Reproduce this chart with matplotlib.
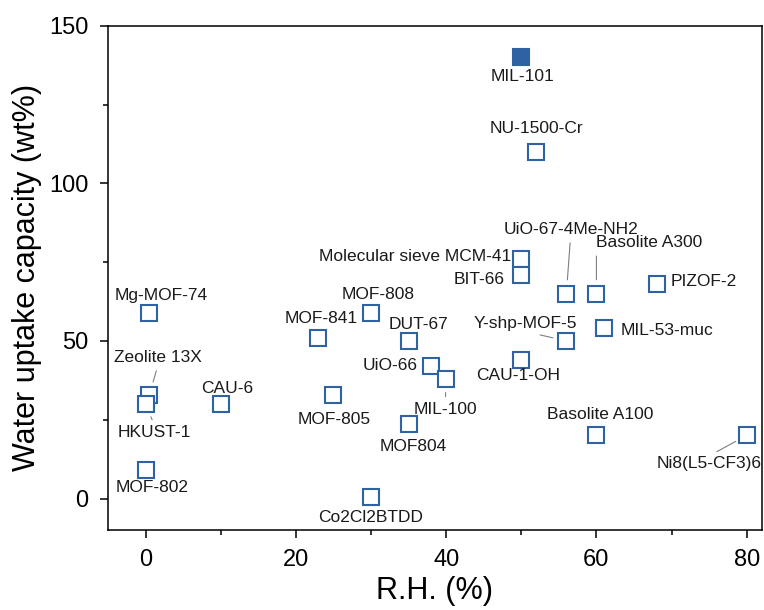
import matplotlib.pyplot as plt
from matplotlib.ticker import MultipleLocator

plt.rcParams['font.family'] = ['Liberation Sans', 'DejaVu Sans']

# materials: relative humidity (%) and water uptake capacity (wt%)
names = ['MIL-101', 'NU-1500-Cr', 'Molecular sieve MCM-41', 'BIT-66', 'UiO-67-4Me-NH2',
         'Basolite A300', 'PIZOF-2', 'MIL-53-muc', 'Y-shp-MOF-5', 'CAU-1-OH',
         'Basolite A100', 'Ni8(L5-CF3)6', 'Mg-MOF-74', 'Zeolite 13X', 'HKUST-1',
         'MOF-802', 'CAU-6', 'MOF-841', 'MOF-808', 'DUT-67', 'UiO-66', 'MIL-100',
         'MOF-805', 'MOF804', 'Co2Cl2BTDD']
rh = [50, 52, 50, 50, 56, 60, 68, 61, 56, 50, 60, 80, 0.5, 0.5, 0, 0, 10, 23, 30, 35,
      38, 40, 25, 35, 30]
uptake = [140, 110, 76, 71, 65, 65, 68, 54, 50, 44, 20, 20, 59, 33, 30, 9, 30, 51, 59, 50,
          42, 38, 33, 23.5, 0.5]
highlight = ['MIL-101']

# label placement: offset in points, alignment, connector (relpos, shrinkB) or None
label_pos = {
    'MIL-101': (1, -13.5, 'center', None),
    'NU-1500-Cr': (0, 17, 'center', None),
    'Molecular sieve MCM-41': (-7, 1.5, 'right', None),
    'BIT-66': (-12, -3.6, 'right', None),
    'UiO-67-4Me-NH2': (3, 46, 'center', ((0.5, 0), 10)),
    'Basolite A300': (0, 36.5, 'left', ((0, 0), 10)),
    'PIZOF-2': (10, 1.7, 'left', None),
    'MIL-53-muc': (11.8, -1.4, 'left', None),
    'Y-shp-MOF-5': (-29.5, 12.2, 'center', ((0.5, 0), 10)),
    'CAU-1-OH': (-2.3, -11.5, 'center', None),
    'Basolite A100': (2.6, 15, 'center', None),
    'Ni8(L5-CF3)6': (-27, -20, 'center', ((0.5, 1), 9)),
    'Mg-MOF-74': (8.2, 12, 'center', None),
    'Zeolite 13X': (6.2, 26.4, 'center', ((0.5, 0), 9.5)),
    'HKUST-1': (6.3, -20.6, 'center', ((0.5, 1), 10)),
    'MOF-802': (5, -12.7, 'center', None),
    'CAU-6': (4.8, 11, 'center', None),
    'MOF-841': (1.7, 13.9, 'center', None),
    'MOF-808': (5.4, 12.7, 'center', None),
    'DUT-67': (7.1, 11.5, 'center', None),
    'UiO-66': (-9.6, 0.5, 'right', None),
    'MIL-100': (-0.6, -22.3, 'center', ((0.5, 1), 10)),
    'MOF-805': (0.4, -18, 'center', None),
    'MOF804': (3.5, -15.6, 'center', None),
    'Co2Cl2BTDD': (0, -15, 'center', None),
}

blue = '#2e62a1'

fig = plt.figure(figsize=(7.64, 6.10), dpi=100)
ax = fig.add_axes([0.1414, 0.1311, 0.8556, 0.8266])

for name, x, y in zip(names, rh, uptake):
    face = blue if name in highlight else 'white'
    ax.plot(x, y, marker='s', markersize=11.5, markerfacecolor=face,
            markeredgecolor=blue, markeredgewidth=1.5, linestyle='none', zorder=3)

for name, x, y in zip(names, rh, uptake):
    dx, dy, ha, conn = label_pos[name]
    kw = {}
    if conn is not None:
        relpos, shrink = conn
        kw['arrowprops'] = dict(arrowstyle='-', color='#7f7f7f', lw=0.8,
                                shrinkA=2, shrinkB=shrink, relpos=relpos)
    ax.annotate(name, (x, y), xytext=(dx, dy), textcoords='offset points',
                ha=ha, va='center', fontsize=12.5, color='#1a1a1a', zorder=4, **kw)

ax.set_xlim(-5, 82)
ax.set_ylim(-10, 150)
ax.xaxis.set_major_locator(MultipleLocator(20))
ax.xaxis.set_minor_locator(MultipleLocator(10))
ax.yaxis.set_major_locator(MultipleLocator(50))
ax.yaxis.set_minor_locator(MultipleLocator(25))
ax.tick_params(which='major', direction='out', length=6, width=1.1, labelsize=17,
               top=False, right=False, pad=8)
ax.tick_params(which='minor', direction='out', length=3.5, width=1.1,
               top=False, right=False)
for sp in ax.spines.values():
    sp.set_linewidth(1.1)

ax.set_xlabel('R.H. (%)', fontsize=22, labelpad=3)
ax.set_ylabel('Water uptake capacity (wt%)', fontsize=22, labelpad=5)

fig.savefig('out.png', dpi=100)
